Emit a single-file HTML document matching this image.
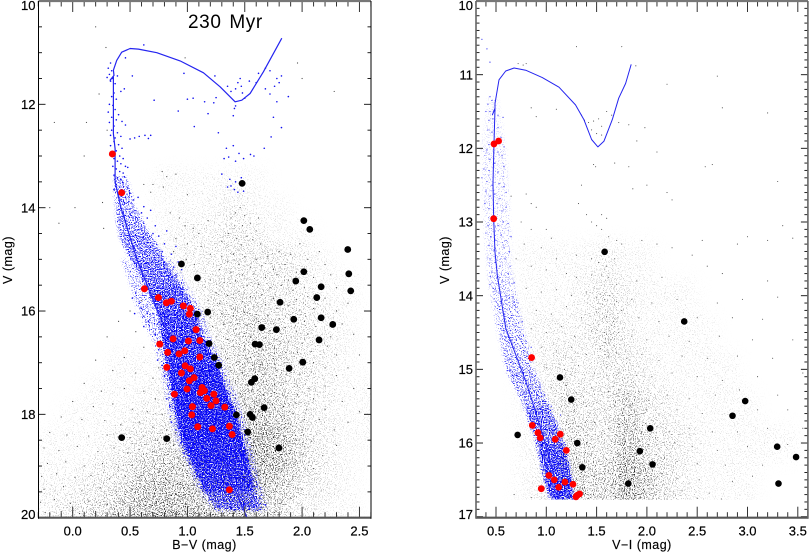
<!DOCTYPE html>
<html lang="en">
<head>
<meta charset="utf-8">
<title>230 Myr colour-magnitude diagrams</title>
<style>
html,body{margin:0;padding:0;background:#fff;width:809px;height:552px;overflow:hidden}
svg{display:block}
text{font-family:"Liberation Sans",sans-serif;fill:#000}
.tick-label{font-size:13px;stroke:#000;stroke-width:.2px}
.axis-title{font-size:12.5px;letter-spacing:.5px;stroke:#000;stroke-width:.15px}
</style>
</head>
<body>
<svg id="figure" width="809" height="552" viewBox="0 0 809 552" xmlns="http://www.w3.org/2000/svg">
<defs>
<filter id="stipple" filterUnits="userSpaceOnUse" x="0" y="0" width="809" height="552" color-interpolation-filters="sRGB">
<feGaussianBlur in="SourceAlpha" stdDeviation="8" result="d"/>
<feTurbulence type="fractalNoise" baseFrequency="0.9" numOctaves="2" seed="4" result="n"/>
<feColorMatrix in="n" type="matrix" values="0 0 0 0 0  0 0 0 0 0  0 0 0 0 0  3 0 0 0 -1" result="na"/>
<feComposite in="d" in2="na" operator="arithmetic" k1="0" k2="1" k3="1" k4="-1" result="a"/>
<feComponentTransfer in="a" result="a2"><feFuncA type="linear" slope="2.6"/></feComponentTransfer>
<feFlood flood-color="#1a1a1a"/>
<feComposite in2="a2" operator="in"/>
</filter>
<filter id="band-stipple" filterUnits="userSpaceOnUse" x="0" y="0" width="809" height="552" color-interpolation-filters="sRGB">
<feGaussianBlur in="SourceAlpha" stdDeviation="1.5" result="d"/>
<feTurbulence type="fractalNoise" baseFrequency="0.85" numOctaves="2" seed="11" result="n"/>
<feColorMatrix in="n" type="matrix" values="0 0 0 0 0  0 0 0 0 0  0 0 0 0 0  3 0 0 0 -1" result="na"/>
<feComposite in="d" in2="na" operator="arithmetic" k1="0" k2="1" k3="1" k4="-1" result="a"/>
<feComponentTransfer in="a" result="a2"><feFuncA type="linear" slope="5"/></feComponentTransfer>
<feFlood flood-color="#0808f5"/>
<feComposite in2="a2" operator="in"/>
</filter>
<clipPath id="clip-left"><rect x="38" y="1" width="333" height="517"/></clipPath>
<clipPath id="clip-right"><rect x="476" y="1" width="332" height="517"/></clipPath>
</defs>
</svg>
<script>
// ---------- Axis tick values ----------
const bvMajorTicks=[0,0.5,1,1.5,2,2.5];
const bvTickLabels=["0.0","0.5","1.0","1.5","2.0","2.5"];
const viMajorTicks=[0.5,1,1.5,2,2.5,3,3.5];
const viTickLabels=["0.5","1.0","1.5","2.0","2.5","3.0","3.5"];
const leftVTicks=[10,12,14,16,18,20];
const leftVLabels=["10","12","14","16","18","20"];
const rightVTicks=[10,11,12,13,14,15,16,17];
const rightVLabels=["10","11","12","13","14","15","16","17"];

// ---------- Left panel: isochrone ----------
const leftIsoBV=[1.52,1.33,1.12,0.95,0.74,0.56,0.42,0.37,0.37,0.355,0.355,0.326,0.36,0.355,0.384,0.427,0.5,0.573,0.733,0.936,1.14,1.285,1.416,1.474,1.547,1.663,1.823];
const leftIsoV=[20,19,18,17,16,15,14,13.5,12.86,12.57,11.47,11.53,11.44,11.34,11.15,10.99,10.92,10.93,11.0,11.16,11.39,11.66,11.95,11.92,11.79,11.37,10.72];

// ---------- Left panel: dense cluster band (edges and fill density by V row) ----------
const leftBandV=[13.4,14,14.5,15,15.5,16,16.5,17,17.5,18,18.5,19,19.5,19.85];
const leftBandBlue=[0.36,0.37,0.40,0.50,0.62,0.73,0.77,0.81,0.85,0.89,0.94,1.04,1.14,1.26];
const leftBandRed=[0.47,0.55,0.67,0.81,0.95,1.08,1.14,1.27,1.34,1.43,1.49,1.55,1.59,1.66];
const leftBandDensity=[0.3,0.42,0.5,0.58,0.68,0.76,0.83,0.9,0.92,0.92,0.88,0.8,0.6];
// Sparse outer halo of the same band
const leftHaloV=[15,15.5,16,16.5,17,17.5,18,18.5,19,19.5,19.85];
const leftHaloBlue=[0.42,0.5,0.57,0.68,0.76,0.8,0.84,0.9,1.0,1.1,1.22];
const leftHaloRed=[0.86,1.0,1.13,1.2,1.32,1.4,1.48,1.55,1.6,1.66,1.7];
const leftHaloDensity=[0.18,0.2,0.22,0.22,0.22,0.22,0.22,0.22,0.22,0.2];

// ---------- Left panel: field density (rows V, columns B-V, 0-9 estimated) ----------
const leftDensityColors=[-0.2,0,0.2,0.4,0.6,0.8,1,1.2,1.4,1.6,1.8,2,2.2,2.4,2.6];
const leftDensityRows=[13.5,14,14.5,15,15.5,16,16.5,17,17.5,18,18.5,19,19.5,20,20.5];
const leftDensity=[
[0,0,0,0,0,1,1,1,1,1,0,0,0,0,0],
[0,0,0,0,0,1,1,1,2,1,1,0,0,0,0],
[0,0,0,0,0,1,2,2,3,2,1,1,0,0,0],
[0,0,0,0,0,1,2,2,3,3,3,2,1,0,0],
[0,0,0,0,0,1,1,3,3,3,3,2,1,1,0],
[0,0,0,0,0,0,1,3,4,4,3,3,2,1,0],
[0,0,0,0,0,0,1,2,4,4,4,3,2,1,0],
[0,0,0,1,1,1,1,2,4,5,4,3,2,1,0],
[0,0,1,1,1,2,1,2,4,5,4,3,2,1,1],
[0,1,1,1,2,2,3,3,4,6,5,3,2,1,1],
[1,1,1,2,3,4,4,3,4,7,6,4,2,1,1],
[1,1,2,3,4,5,5,4,5,7,6,4,2,1,0],
[2,2,3,4,6,6,6,5,6,6,5,3,2,1,0],
[2,3,4,5,6,7,6,6,6,5,4,2,1,1,0],
[2,3,4,5,6,7,6,6,6,5,4,2,1,1,0]];

// ---------- Left panel: individual field stars [B-V, V] ----------
const leftField=[[-0.16,12.35],[0.12,12.35],[0.1,13.0],[0.02,14.0],[-0.2,14.0],[-0.12,14.3],[0.27,14.4],[0.26,13.9],[0.3,12.5],[0.23,11.8],[0.2,10.5],[0.29,10.9],[0.98,11.1],[1.96,11.2],[2.28,11.75],[2.0,11.5],[0.7,13.55],[0.79,13.6],[0.82,13.4],[0.9,13.35],[0.78,13.3],[0.62,13.55],[0.68,13.7],[1.0,13.75],[1.46,14.0],[1.42,14.1],[1.5,14.15],[1.38,14.2],[1.55,14.3],[1.48,14.35],[1.6,14.45],[1.36,14.5],[1.52,14.55],[1.43,14.6],[1.57,14.62],[1.3,14.65],[1.47,14.72],[1.62,14.2],[1.64,14.7],[0.85,14.1],[0.93,14.2],[0.98,14.35],[1.05,14.4],[1.1,14.5],[0.9,14.6],[1.0,14.7],[1.12,14.75],[1.18,14.25],[0.88,14.85],[0.99,15.0],[1.06,15.1],[1.2,14.9],[1.3,14.95],[1.4,14.9],[1.5,14.95],[1.6,15.0],[1.7,14.95],[1.8,14.85],[1.9,14.9],[1.98,14.7],[2.05,15.0],[2.15,14.85],[2.2,15.1],[1.35,15.05],[1.45,15.1],[1.55,15.15],[1.65,15.12],[1.75,15.2],[1.85,15.1],[1.95,15.25],[1.28,15.2],[1.38,15.25],[1.48,15.3],[1.58,15.28],[1.68,15.35],[1.78,15.3],[1.88,15.4],[2.1,15.35],[2.25,15.3],[2.3,15.55],[1.2,15.4],[1.32,15.45],[1.42,15.42],[1.52,15.5],[1.62,15.48],[1.72,15.55],[1.82,15.5],[1.92,15.6],[2.02,15.55],[1.25,15.65],[1.35,15.7],[1.45,15.62],[1.55,15.72],[1.65,15.68],[1.75,15.75],[1.95,15.78],[2.05,15.72],[2.2,15.75],[2.4,15.85],[1.18,15.8],[1.28,15.85],[1.38,15.9],[1.48,15.82],[1.58,15.92],[1.68,15.88],[1.78,15.95],[1.88,15.9],[1.98,15.98],[2.1,15.95],[2.3,16.0],[1.2,16.12],[1.3,16.05],[1.4,16.1],[1.5,16.02],[1.6,16.14],[1.7,16.08],[1.8,16.15],[2.02,16.2],[2.12,16.3],[2.35,16.25],[1.22,16.3],[1.32,16.25],[1.42,16.35],[1.52,16.28],[1.62,16.2],[1.72,16.38],[1.85,16.32],[1.95,16.4],[2.05,16.45],[2.25,16.5],[2.45,16.45],[1.25,16.5],[1.35,16.55],[1.45,16.45],[1.55,16.5],[1.68,16.52],[1.78,16.55],[1.88,16.6],[2.0,16.62],[2.22,16.68],[1.3,16.72],[1.4,16.68],[1.5,16.75],[1.66,16.75],[1.76,16.72],[1.86,16.8],[1.96,16.8],[2.08,16.78],[2.3,16.85],[2.5,16.85],[1.35,16.92],[1.45,16.98],[1.55,16.9],[1.65,17.0],[1.75,16.92],[1.85,17.0],[2.1,17.0],[2.2,17.1],[2.4,17.1],[1.38,17.15],[1.48,17.2],[1.58,17.12],[1.68,17.22],[1.78,17.15],[1.98,17.22],[2.08,17.18],[2.3,17.25],[1.42,17.35],[1.52,17.42],[1.66,17.38],[1.76,17.42],[1.86,17.36],[1.96,17.45],[2.06,17.5],[2.2,17.45],[2.45,17.5],[1.46,17.6],[1.56,17.55],[1.66,17.62],[1.76,17.58],[1.86,17.66],[1.96,17.62],[2.1,17.7],[2.35,17.75],[1.5,17.8],[1.6,17.75],[1.74,17.8],[1.84,17.85],[1.94,17.78],[2.04,17.9],[2.2,17.9],[2.5,17.95],[1.62,17.95],[1.72,18.0],[1.82,18.05],[1.92,17.98],[2.02,18.1],[2.15,18.1],[2.4,18.15],[1.6,18.2],[1.7,18.15],[1.8,18.25],[1.9,18.2],[2.0,18.3],[2.28,18.3],[1.55,18.45],[1.65,18.4],[1.75,18.45],[1.85,18.42],[1.95,18.5],[2.08,18.52],[2.3,18.6],[1.6,18.62],[1.7,18.7],[1.9,18.7],[2.0,18.78],[2.18,18.8],[1.65,18.9],[1.75,18.85],[1.85,18.95],[1.95,18.9],[2.1,19.05],[1.62,19.1],[1.72,19.15],[1.82,19.1],[1.92,19.2],[1.68,19.35],[1.78,19.4],[1.88,19.35],[2.0,19.45],[1.72,19.6],[1.82,19.7],[1.9,19.62],[1.66,19.8],[1.76,19.9],[0.6,15.8],[0.5,16.0],[0.4,16.2],[0.55,16.4],[0.3,16.5],[0.62,16.7],[0.45,16.9],[0.2,16.95],[0.35,17.15],[0.55,17.2],[0.7,17.3],[0.75,17.1],[0.1,17.4],[0.25,17.55],[0.45,17.5],[0.62,17.55],[0.72,17.7],[0.0,17.75],[0.18,17.85],[0.35,17.8],[0.52,17.9],[0.65,17.95],[0.78,18.0],[0.85,18.1],[-0.1,18.05],[0.08,18.1],[0.28,18.12],[0.42,18.2],[0.58,18.15],[0.7,18.25],[0.82,18.3],[0.9,18.35],[-0.2,18.35],[-0.05,18.4],[0.14,18.42],[0.3,18.4],[0.5,18.45],[0.62,18.42],[0.74,18.5],[0.88,18.6],[0.96,18.7],[-0.25,18.65],[-0.12,18.7],[0.04,18.62],[0.22,18.72],[0.36,18.65],[0.48,18.75],[0.58,18.68],[0.7,18.72],[0.8,18.78],[0.92,18.85],[-0.22,18.95],[-0.06,18.92],[0.1,19.0],[0.26,18.95],[0.4,19.02],[0.52,18.98],[0.64,19.0],[0.76,19.05],[0.88,19.02],[1.0,19.1],[-0.27,19.2],[-0.14,19.15],[0.02,19.22],[0.16,19.18],[0.32,19.25],[0.46,19.2],[0.58,19.22],[0.7,19.3],[0.82,19.26],[0.94,19.32],[1.06,19.35],[-0.25,19.45],[-0.08,19.4],[0.08,19.48],[0.24,19.42],[0.38,19.5],[0.52,19.46],[0.66,19.52],[0.78,19.48],[0.9,19.55],[1.02,19.5],[1.14,19.6],[-0.28,19.7],[-0.16,19.65],[-0.02,19.72],[0.14,19.68],[0.3,19.75],[0.44,19.7],[0.58,19.76],[0.72,19.72],[0.86,19.78],[0.98,19.74],[1.1,19.8],[1.22,19.82],[-0.24,19.9],[-0.1,19.88],[0.06,19.92],[0.2,19.88],[0.36,19.94],[0.5,19.9],[0.64,19.95],[0.78,19.9],[0.92,19.94],[1.06,19.92],[1.18,19.96]];

// ---------- Left panel: individually visible cluster stars [B-V, V] ----------
const leftMembers=[[0.33,11.2],[0.31,11.3],[0.34,11.35],[0.32,11.42],[0.35,11.5],[0.3,11.48],[0.33,11.55],[0.37,11.6],[0.39,11.45],[0.42,11.75],[0.36,11.78],[0.34,11.85],[0.38,11.9],[0.45,11.7],[0.52,11.45],[0.46,11.1],[0.62,10.85],[0.71,11.92],[0.92,12.13],[1.0,11.9],[1.05,11.88],[1.15,11.95],[1.18,12.18],[1.23,11.97],[1.25,11.87],[1.24,11.45],[0.97,11.4],[1.06,12.43],[1.27,12.55],[0.32,12.0],[0.35,12.02],[0.31,12.15],[0.37,12.1],[0.4,12.2],[0.34,12.25],[0.38,12.3],[0.32,12.35],[0.43,12.33],[0.36,12.42],[0.34,12.5],[0.39,12.55],[0.46,12.4],[0.33,12.6],[0.37,12.65],[0.42,12.62],[0.5,12.67],[0.54,12.65],[0.58,12.62],[0.63,12.6],[0.66,12.66],[0.68,12.6],[0.36,12.72],[0.4,12.78],[0.33,12.8],[0.43,12.85],[0.38,12.9],[0.41,13.0],[0.44,13.05],[0.36,13.05],[0.39,13.1],[0.42,13.15],[0.46,13.2],[0.35,13.2],[0.38,13.25],[0.41,13.3],[0.44,13.33],[0.48,13.22],[0.36,13.37],[0.39,13.42],[0.42,13.46],[0.45,13.4],[0.38,13.55],[0.41,13.6],[0.44,13.52],[0.48,13.62],[0.36,13.65],[0.4,13.75],[0.46,13.8],[0.5,13.72],[0.42,13.85],[0.45,13.9],[0.49,13.88],[0.53,13.85],[0.57,13.8],[0.62,13.98],[0.6,14.1],[0.65,14.2],[0.68,14.05],[0.72,14.35],[0.7,14.5],[0.75,14.55],[0.8,14.7],[0.82,14.45],[0.78,14.85],[0.86,14.9],[0.9,14.75],[0.92,15.05],[0.95,15.2],[0.88,15.15],[0.55,15.65],[0.52,15.75],[0.58,15.85],[0.6,15.95],[0.54,16.05],[0.62,16.1],[0.66,16.2],[0.68,15.7],[0.72,15.9],[0.7,16.05],[0.74,16.25],[0.65,16.05],[0.62,16.3],[0.72,16.45],[0.75,16.75],[0.74,16.95],[0.78,17.05],[0.8,17.25],[0.83,17.45],[0.82,17.7],[0.85,17.85],[0.86,18.15],[0.9,18.3],[0.94,18.55],[0.97,18.75],[1.02,18.95],[1.08,19.2],[1.12,19.4],[1.2,19.65],[1.28,19.78],[1.38,19.72],[1.45,19.82],[1.5,19.75],[1.58,19.78],[1.63,19.62],[1.68,19.75],[1.6,19.4],[1.58,19.25],[1.57,19.05],[1.52,18.7],[1.5,18.4],[1.46,18.2],[1.4,17.85],[1.36,17.6],[1.3,17.3],[1.28,17.2],[1.22,16.85],[1.16,16.6],[1.12,16.35],[1.08,16.15],[1.0,15.75],[0.96,15.55],[0.9,15.3],[1.35,11.65],[1.38,11.75],[1.42,11.7],[1.44,11.58],[1.47,11.65],[1.48,11.78],[1.5,11.88],[1.46,11.5],[1.54,11.55],[1.6,11.58],[1.62,11.4],[1.68,11.3],[1.72,11.35],[1.78,11.5],[1.8,11.58],[1.82,11.45],[1.76,11.65],[1.72,11.8],[1.68,11.7],[1.88,11.85],[1.78,11.95],[1.42,12.03],[1.41,12.08],[1.4,12.22],[1.75,12.25],[1.82,12.45],[1.73,12.63],[1.67,12.85],[1.34,12.85],[1.4,12.8],[1.45,12.95],[1.32,13.05],[1.36,13.02],[1.42,13.1],[1.49,13.05],[1.55,12.97],[1.58,13.0],[1.3,13.35],[1.37,13.45],[1.42,13.5],[1.38,13.58],[1.41,13.65],[1.35,13.6],[1.44,13.7],[1.47,13.42],[1.49,13.68]];

// ---------- Left panel: highlighted stars ----------
const leftRedBV=[0.346,0.427,0.625,0.747,0.817,0.86,0.965,1.026,1.017,1.076,0.875,1.009,1.108,0.759,0.828,0.927,0.977,1.108,0.98,0.82,1.026,0.948,1.058,1.017,0.997,1.128,1.148,1.113,1.23,0.887,1.169,1.25,1.206,1.326,1.044,1.038,1.09,1.218,1.366,1.39,1.366];
const leftRedV=[12.96,13.71,15.57,15.74,15.84,15.81,15.9,15.95,16.06,16.36,16.54,16.58,16.57,16.64,16.8,16.83,16.77,16.89,17.06,17.09,17.12,17.2,17.29,17.35,17.51,17.48,17.54,17.58,17.61,17.61,17.69,17.74,17.83,17.86,17.85,18.01,18.24,18.28,18.23,18.39,19.46];
const leftBlackBV=[1.477,2.015,2.067,2.398,0.948,2.015,2.407,1.087,1.945,2.166,2.424,2.128,1.808,1.087,1.177,2.166,1.927,2.267,1.648,1.776,2.148,1.189,1.59,1.628,1.235,1.273,2.006,1.887,1.587,1.558,1.669,1.427,1.547,1.567,1.526,0.427,0.82,1.797];
const leftBlackV=[13.53,14.25,14.42,14.81,15.09,15.24,15.28,15.36,15.42,15.53,15.61,15.74,15.83,16.06,16.02,16.13,16.16,16.26,16.32,16.36,16.56,16.63,16.64,16.65,16.9,17.05,16.99,17.11,17.31,17.38,17.87,18.01,18.0,18.06,18.34,18.45,18.47,18.65];

// ---------- Right panel: isochrone ----------
const rightIsoVI=[1.844,1.788,1.72,1.656,1.573,1.513,1.45,1.374,1.29,1.126,0.96,0.795,0.68,0.596,0.53,0.49,0.49,0.464,0.49,0.48,0.47,0.477,0.49,0.513,0.596,0.795,0.944,1.06,1.126];
const rightIsoV=[10.86,11.12,11.32,11.61,11.905,11.98,11.88,11.61,11.41,11.17,11.04,10.94,10.91,10.95,11.07,11.39,11.455,11.545,11.46,11.93,12.47,12.96,13.41,13.72,14.44,15.16,15.8,16.34,16.76];

// ---------- Right panel: cluster band ----------
const rightBandV=[11.3,12,13,13.7,14,14.5,15,15.5,16,16.5,16.77];
const rightBandBlue=[0.42,0.36,0.38,0.42,0.45,0.52,0.6,0.78,0.9,0.98,1.04];
const rightBandRed=[0.52,0.6,0.64,0.66,0.7,0.78,0.88,1.03,1.18,1.26,1.27];
const rightBandDensity=[0.05,0.08,0.1,0.15,0.18,0.22,0.34,0.55,0.7,0.78];

// ---------- Right panel: field density ----------
const rightDensityColors=[0.4,0.6,0.8,1,1.2,1.4,1.6,1.8,2,2.2,2.4,2.6,2.8,3,3.2,3.4,3.6];
const rightDensityRows=[13.5,14,14.5,15,15.5,16,16.5,17];
const rightDensity=[
[0,0,1,1,1,1,2,1,1,0,0,0,0,0,0,0,0],
[0,0,1,1,1,2,3,2,1,1,1,0,0,0,0,0,0],
[0,0,1,2,2,2,4,2,1,1,1,1,0,0,0,0,0],
[0,0,1,2,3,2,3,3,2,1,1,1,1,0,0,0,0],
[0,0,1,2,4,3,3,5,3,2,1,1,1,1,0,0,0],
[0,0,1,2,4,4,3,6,4,3,2,1,1,1,1,1,0],
[0,0,1,2,5,5,4,7,5,3,2,1,1,1,0,0,0],
[0,0,1,2,5,5,4,7,5,3,2,1,1,1,0,0,0]];

// ---------- Right panel: individual field stars [V-I, V] ----------
const rightField=[[0.72,10.85],[1.3,10.62],[1.75,10.62],[0.8,10.85],[0.77,10.87],[1.89,10.88],[2.2,11.13],[2.7,11.02],[2.75,11.45],[3.2,11.52],[0.85,11.45],[0.9,11.57],[1.1,11.47],[1.35,11.55],[1.38,11.62],[1.42,11.65],[1.47,11.63],[1.52,11.6],[1.55,11.7],[1.45,11.75],[1.5,11.8],[1.55,11.82],[1.6,11.5],[1.65,11.55],[1.72,11.65],[1.82,11.68],[1.98,11.72],[1.9,11.9],[2.1,12.05],[1.49,12.25],[1.47,12.22],[1.68,12.2],[1.82,12.25],[2.65,12.22],[2.58,12.25],[2.2,12.6],[2.25,12.7],[2.0,12.5],[1.86,12.55],[3.3,12.45],[1.35,12.5],[1.32,12.75],[1.4,12.9],[1.55,12.9],[1.6,12.95],[1.45,13.0],[1.5,13.05],[1.55,13.1],[1.62,13.2],[1.7,13.25],[0.65,12.65],[0.8,12.62],[0.85,12.75],[0.9,12.8],[0.75,13.0],[0.85,13.1],[1.0,13.1],[1.05,13.22],[0.78,13.3],[0.95,13.35],[1.1,13.5],[1.3,13.45],[1.45,13.5],[1.52,13.55],[1.6,13.6],[1.68,13.5],[1.75,13.3],[1.95,13.25],[2.1,13.3],[2.25,13.35],[2.45,13.45],[2.55,13.25],[2.9,13.3],[3.0,13.2],[3.2,13.25],[3.35,13.05],[3.45,13.22],[0.7,13.5],[0.85,13.6],[1.0,13.65],[1.2,13.7],[1.3,13.75],[1.45,13.72],[1.55,13.72],[1.62,13.75],[1.7,13.85],[1.9,13.8],[2.15,13.75],[2.6,13.6],[2.75,13.7],[3.2,13.8],[0.8,13.9],[0.95,13.95],[1.1,13.92],[1.25,14.0],[1.4,13.95],[1.5,14.02],[1.58,14.05],[1.63,14.0],[1.7,14.08],[1.85,14.05],[2.05,14.1],[2.3,14.05],[2.7,14.1],[2.95,14.05],[3.3,14.02],[0.9,14.2],[1.05,14.25],[1.2,14.15],[1.35,14.3],[1.5,14.22],[1.6,14.28],[1.67,14.35],[1.75,14.2],[1.92,14.3],[2.12,14.35],[2.5,14.3],[2.85,14.3],[3.15,14.32],[0.85,14.45],[1.0,14.5],[1.15,14.42],[1.28,14.55],[1.45,14.48],[1.58,14.5],[1.64,14.6],[1.72,14.5],[1.85,14.55],[2.0,14.6],[2.22,14.55],[2.42,14.62],[2.72,14.55],[3.05,14.6],[3.45,14.6],[0.95,14.7],[1.1,14.75],[1.25,14.7],[1.4,14.8],[1.54,14.72],[1.62,14.82],[1.7,14.78],[1.8,14.85],[1.95,14.8],[2.12,14.88],[2.35,14.82],[2.6,14.85],[2.9,14.82],[3.25,14.85],[1.0,14.98],[1.18,15.0],[1.32,14.95],[1.48,15.05],[1.6,14.98],[1.72,15.05],[1.78,15.12],[1.9,15.08],[2.05,15.1],[2.25,15.05],[2.5,15.1],[2.75,15.15],[3.1,15.1],[3.55,15.05],[1.05,15.25],[1.2,15.22],[1.3,15.32],[1.45,15.25],[1.62,15.3],[1.72,15.28],[1.8,15.4],[1.92,15.3],[2.02,15.42],[2.2,15.35],[2.42,15.4],[2.68,15.35],[2.92,15.28],[3.3,15.35],[1.15,15.5],[1.28,15.55],[1.4,15.5],[1.58,15.55],[1.68,15.5],[1.76,15.58],[1.84,15.5],[1.9,15.62],[2.0,15.55],[2.12,15.62],[2.3,15.55],[2.55,15.6],[3.1,15.55],[3.4,15.55],[1.2,15.72],[1.32,15.78],[1.48,15.72],[1.62,15.8],[1.72,15.75],[1.8,15.82],[1.88,15.75],[1.95,15.85],[2.1,15.78],[2.22,15.85],[2.42,15.8],[2.65,15.85],[2.9,15.85],[3.2,15.8],[3.55,15.8],[1.25,15.95],[1.4,16.0],[1.55,15.92],[1.68,16.02],[1.76,15.95],[1.84,16.05],[1.92,15.98],[2.02,16.02],[2.12,16.08],[2.28,16.0],[2.45,16.05],[2.7,16.1],[3.0,16.05],[3.4,16.02],[1.3,16.2],[1.45,16.15],[1.6,16.22],[1.72,16.18],[1.8,16.25],[1.86,16.18],[1.94,16.28],[2.14,16.2],[2.3,16.25],[2.5,16.28],[2.78,16.3],[3.15,16.3],[1.35,16.4],[1.48,16.45],[1.62,16.38],[1.72,16.45],[1.78,16.38],[1.85,16.48],[1.94,16.42],[2.02,16.5],[2.15,16.42],[2.3,16.48],[2.52,16.5],[2.85,16.52],[3.05,16.45],[1.38,16.6],[1.5,16.65],[1.65,16.58],[1.75,16.65],[1.88,16.6],[1.96,16.68],[2.05,16.62],[2.18,16.7],[2.35,16.65],[2.62,16.68],[1.42,16.75],[1.56,16.76],[1.7,16.74],[1.82,16.76],[1.92,16.75],[2.02,16.76],[2.12,16.75],[2.2,16.76],[2.5,16.75],[2.74,16.76],[0.68,16.7],[0.85,16.74]];

// ---------- Right panel: individually visible cluster stars [V-I, V] ----------
const rightMembers=[[0.36,10.52],[0.41,10.65],[0.44,10.83],[0.44,11.3],[0.42,11.4],[0.46,11.35],[0.49,11.42],[0.44,11.5],[0.4,11.5],[0.47,11.6],[0.43,11.62],[0.52,11.55],[0.57,11.58],[0.42,11.75],[0.46,11.78],[0.52,11.72],[0.55,11.85],[0.43,11.95],[0.58,11.98],[0.41,12.02],[0.52,12.05],[0.56,12.1],[0.44,12.15],[0.49,12.2],[0.38,12.28],[0.43,12.3],[0.52,12.32],[0.58,12.25],[0.36,12.4],[0.41,12.45],[0.46,12.5],[0.53,12.48],[0.58,12.52],[0.4,12.58],[0.44,12.65],[0.49,12.62],[0.54,12.68],[0.6,12.6],[0.39,12.75],[0.43,12.82],[0.51,12.75],[0.56,12.85],[0.6,12.8],[0.42,13.05],[0.52,13.05],[0.57,13.0],[0.62,13.02],[0.4,13.15],[0.45,13.2],[0.5,13.25],[0.55,13.18],[0.6,13.25],[0.65,13.2],[0.43,13.32],[0.48,13.38],[0.53,13.42],[0.58,13.35],[0.63,13.4],[0.44,13.5],[0.49,13.55],[0.54,13.6],[0.59,13.5],[0.64,13.6],[0.46,13.68],[0.51,13.75],[0.56,13.8],[0.62,13.7],[0.68,13.82],[0.44,13.85],[0.49,13.92],[0.6,14.0],[0.67,14.02],[0.72,14.1],[0.53,14.15],[0.58,14.25],[0.65,14.3],[0.76,14.35],[0.55,14.45],[0.62,14.55],[0.7,14.6],[0.8,14.62],[0.85,14.7],[0.6,14.72],[0.66,14.82],[0.74,14.85],[0.82,14.92],[0.64,15.0],[0.7,15.08],[0.78,15.12],[0.86,15.2],[0.72,15.25],[0.8,15.32],[0.92,15.3],[0.98,15.35],[0.78,15.42],[0.84,15.5],[0.95,15.55],[1.05,15.5],[0.82,15.6],[0.88,15.68],[1.1,15.7],[1.14,15.62]];

// ---------- Right panel: highlighted stars ----------
const rightRedVI=[0.526,0.48,0.477,0.854,0.861,0.917,0.94,1.139,1.089,1.199,1.026,1.079,1.185,1.265,1.123,0.95,1.331,1.308,1.295];
const rightRedV=[11.9,11.94,12.955,14.84,15.76,15.86,15.93,15.88,15.95,16.1,16.44,16.5,16.53,16.56,16.6,16.62,16.69,16.71,16.73];
const rightBlackVI=[1.58,2.371,1.136,1.248,2.977,2.851,2.033,0.715,1.308,3.295,1.93,3.483,2.056,1.358,1.815,3.308];
const rightBlackV=[13.405,14.35,15.11,15.41,15.43,15.63,15.8,15.89,16.0,16.05,16.11,16.19,16.29,16.33,16.55,16.55];

// ---------- Axis functions ----------
const xLeft=v=>72.7+114.7*v;
const yLeft=v=>1+(v-10)*51.67;
const xRight=v=>496+100.6*(v-0.5);
const yRight=v=>1+(v-10)*73.67;

const NS='http://www.w3.org/2000/svg';
const figure=document.getElementById('figure');
function add(parent,tag,attrs,name){
  const el=document.createElementNS(NS,tag);
  for(const k in attrs)el.setAttribute(k,attrs[k]);
  
  
  parent.appendChild(el);
  return el;
}
function drawDensity(parent,colors,rows,grid,x,y,colorStep,rowStep,name){
  const g=add(parent,'g',{filter:'url(#stipple)'},name);
  grid.forEach((row,i)=>row.forEach((d,j)=>{
    if(!d)return;
    const x0=x(colors[j]-colorStep/2),x1=x(colors[j]+colorStep/2);
    const y0=y(rows[i]-rowStep/2),y1=y(rows[i]+rowStep/2);
    add(g,'rect',{x:x0,y:y0,width:x1-x0,height:y1-y0,fill:'#000','fill-opacity':d*0.062},'field-density-cell');
  }));
}
function drawBand(parent,vs,lefts,rights,dens,x,y,name){
  const g=add(parent,'g',{filter:'url(#band-stipple)'},name);
  for(let i=0;i<vs.length-1;i++){
    const pts=[[lefts[i],vs[i]],[rights[i],vs[i]],[rights[i+1],vs[i+1]],[lefts[i+1],vs[i+1]]]
      .map(p=>x(p[0])+','+y(p[1])).join(' ');
    add(g,'polygon',{points:pts,fill:'#000','fill-opacity':dens[i]},'cluster-band-slice');
  }
}
function drawPairs(parent,pairs,x,y,r,fill,op,name){
  const g=add(parent,'g',{},name);
  pairs.forEach(p=>add(g,'circle',{cx:x(p[0]),cy:y(p[1]),r:r,fill:fill,'fill-opacity':op},name+'-point'));
}
function drawMarkers(parent,xs,ys,x,y,r,fill,name){
  const g=add(parent,'g',{},name);
  xs.forEach((v,i)=>add(g,'circle',{cx:x(v),cy:y(ys[i]),r:r,fill:fill},name+'-point'));
}
function drawLine(parent,xs,ys,x,y,w,name){
  const pts=xs.map((v,i)=>x(v).toFixed(1)+','+y(ys[i]).toFixed(1)).join(' ');
  add(parent,'polyline',{points:pts,fill:'none',stroke:'#2424f0','stroke-width':w,'stroke-linejoin':'round'},name);
}
function drawFrame(parent,o){
  const g=add(parent,'g',{},o.name+'-axes');
  const line=(x1,y1,x2,y2,c,w,n)=>add(g,'line',{x1,y1,x2,y2,stroke:c,'stroke-width':w},n);
  for(let k=Math.ceil(o.xMin*10);k<=Math.floor(o.xMax*10);k++){
    const v=k/10,major=k%5===0,len=major?11:5.5,px=o.x(v);
    line(px,o.bottom,px,o.bottom-len,'#333',1,'x-tick-bottom');
    line(px,o.top,px,o.top+len,'#333',1,'x-tick-top');
  }
  for(let k=0;k<=(o.yMax-o.yMin)/o.yMinor+0.01;k++){
    const v=o.yMin+k*o.yMinor,px=o.y(v);
    const major=Math.abs(v/o.yMajor-Math.round(v/o.yMajor))<1e-6,len=major?7:3.5;
    line(o.left,px,o.left+len,px,'#222',1,'y-tick-left');
    line(o.right,px,o.right-len,px,'#222',1,'y-tick-right');
  }
  line(o.left,o.top,o.right,o.top,'#777',2.2,'top-frame');
  line(o.left,o.bottom,o.right,o.bottom,'#555',2.2,'bottom-frame');
  line(o.left,o.top,o.left,o.bottom+1,o.sideColor,o.sideWidth,'left-frame');
  line(o.right,o.top,o.right,o.bottom+1,o.sideColor,o.sideWidth,'right-frame');
  o.xTicks.forEach((v,i)=>{
    const t=add(g,'text',{x:o.x(v),y:535.5,'text-anchor':'middle',class:'tick-label'},'x-tick-label');
    t.textContent=o.xLabels[i];
  });
  o.yTicks.forEach((v,i)=>{
    const cy=Math.min(514.5,Math.max(5.5,o.y(v)));
    const t=add(g,'text',{x:o.labelX,y:cy+4.6,'text-anchor':'end',class:'tick-label'},'y-tick-label');
    t.textContent=o.yLabels[i];
  });
  const xt=add(g,'text',{x:o.xTitleX,y:549,'text-anchor':'middle',class:'axis-title'},'x-axis-title');
  xt.textContent=o.xTitle;
  const yt=add(g,'text',{x:o.yTitleX,y:260,'text-anchor':'middle',class:'axis-title',transform:'rotate(-90 '+o.yTitleX+' 260)'},'y-axis-title');
  yt.textContent='V (mag)';
}

// ---------- Left panel ----------
const leftPanel=add(figure,'g',{},'bv-panel');
const leftPlot=add(leftPanel,'g',{'clip-path':'url(#clip-left)'},'bv-plot-area');
drawDensity(leftPlot,leftDensityColors,leftDensityRows,leftDensity,xLeft,yLeft,0.2,0.5,'bv-field-density');
drawPairs(leftPlot,leftField,xLeft,yLeft,0.6,'#000',0.7,'bv-field-stars');
drawBand(leftPlot,leftHaloV,leftHaloBlue,leftHaloRed,leftHaloDensity,xLeft,yLeft,'bv-cluster-halo');
drawBand(leftPlot,leftBandV,leftBandBlue,leftBandRed,leftBandDensity,xLeft,yLeft,'bv-cluster-band');
drawPairs(leftPlot,leftMembers,xLeft,yLeft,0.8,'#1010f0',1,'bv-cluster-stars');
drawLine(leftPlot,leftIsoBV,leftIsoV,xLeft,yLeft,1.2,'bv-isochrone');
drawMarkers(leftPlot,leftBlackBV,leftBlackV,xLeft,yLeft,3.4,'#000','bv-black-stars');
drawMarkers(leftPlot,leftRedBV,leftRedV,xLeft,yLeft,3.5,'#f00','bv-red-stars');
drawFrame(leftPanel,{name:'bv',x:xLeft,y:yLeft,xMin:-0.3,xMax:2.6,yMin:10,yMax:20,yMinor:0.5,yMajor:2,left:38.5,right:371,top:1,bottom:517.7,sideColor:'#000',sideWidth:1,xTicks:bvMajorTicks,xLabels:bvTickLabels,yTicks:leftVTicks,yLabels:leftVLabels,labelX:35.5,xTitle:'B\u2212V (mag)',xTitleX:204.5,yTitleX:12});
const title=add(leftPanel,'text',{x:188,y:28,'font-size':19,'letter-spacing':'.6','word-spacing':'2'},'panel-title');
title.textContent='230 Myr';

// ---------- Right panel ----------
const rightPanel=add(figure,'g',{},'vi-panel');
const rightPlot=add(rightPanel,'g',{'clip-path':'url(#clip-right)'},'vi-plot-area');
const cutRect=add(document.querySelector('defs'),'clipPath',{id:'clip-limit'},'vi-limit-clip');
add(cutRect,'rect',{x:xRight(0.3),y:0,width:xRight(3.6)-xRight(0.3),height:yRight(16.77)},'vi-limit-rect');
const rightCut=add(rightPlot,'g',{'clip-path':'url(#clip-limit)'},'vi-data-limit');
drawDensity(rightCut,rightDensityColors,rightDensityRows,rightDensity,xRight,yRight,0.2,0.5,'vi-field-density');
drawPairs(rightCut,rightField,xRight,yRight,0.55,'#000',0.7,'vi-field-stars');
drawBand(rightCut,rightBandV,rightBandBlue,rightBandRed,rightBandDensity,xRight,yRight,'vi-cluster-band');
drawPairs(rightCut,rightMembers,xRight,yRight,0.6,'#1010f0',0.85,'vi-cluster-stars');
drawLine(rightPlot,rightIsoVI,rightIsoV,xRight,yRight,1,'vi-isochrone');
drawMarkers(rightPlot,rightBlackVI,rightBlackV,xRight,yRight,3.3,'#000','vi-black-stars');
drawMarkers(rightPlot,rightRedVI,rightRedV,xRight,yRight,3.4,'#f00','vi-red-stars');
drawFrame(rightPanel,{name:'vi',x:xRight,y:yRight,xMin:0.3,xMax:3.6,yMin:10,yMax:17,yMinor:0.1,yMajor:1,left:476,right:807.9,top:1,bottom:517.7,sideColor:'#666',sideWidth:1.6,xTicks:viMajorTicks,xLabels:viTickLabels,yTicks:rightVTicks,yLabels:rightVLabels,labelX:473,xTitle:'V\u2212I (mag)',xTitleX:642,yTitleX:449});
</script>
</body>
</html>
